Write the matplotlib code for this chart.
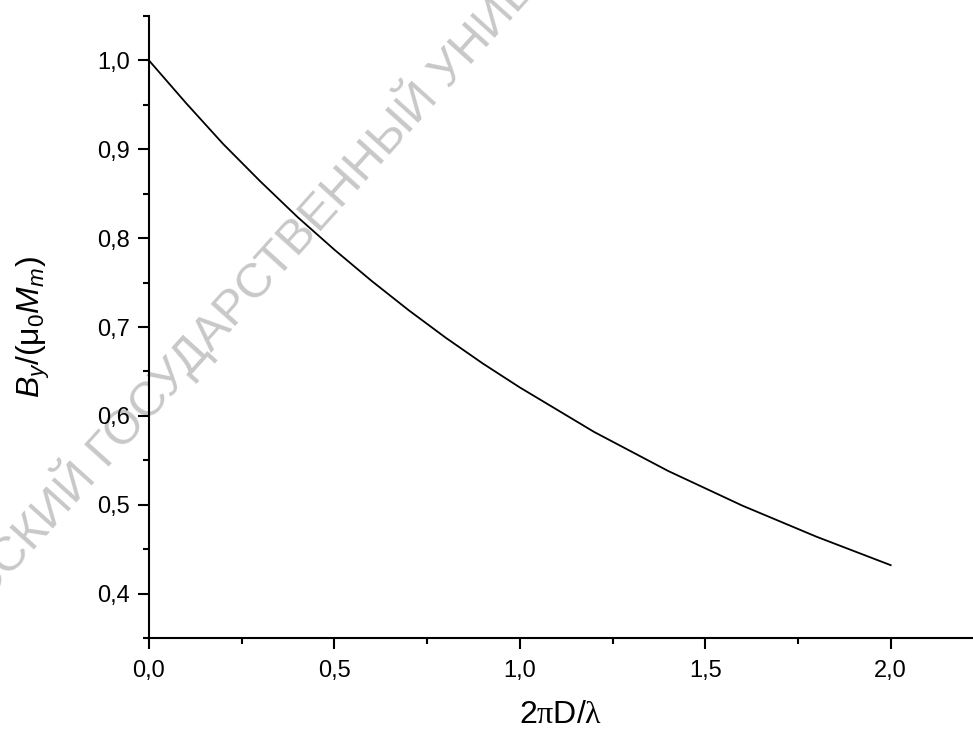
import numpy as np
import matplotlib.pyplot as plt
from matplotlib.ticker import MultipleLocator, FuncFormatter

# Datos
x_vals = [0.0, 0.1, 0.2, 0.3, 0.4, 0.5, 0.6, 0.7, 0.8, 0.9, 1.0,
          1.2, 1.4, 1.6, 1.8, 2.0]
b_vals = [1.000, 0.952, 0.906, 0.864, 0.824, 0.787, 0.752, 0.719, 0.688,
          0.659, 0.632, 0.582, 0.538, 0.499, 0.464, 0.432]

x_label = r'2$\mathcal{\pi}$D/$\mathcal{\lambda}$'
y_label = r'$\mathit{B}_\mathit{y}$/($\mathrm{\mu}_\mathrm{0}\mathit{M}_\mathit{m}$)'
marca = "БЕЛОРУССКИЙ ГОСУДАРСТВЕННЫЙ УНИВЕРСИТЕТ"

plt.rcParams['font.family'] = ['Liberation Sans', 'DejaVu Sans']
plt.rcParams['mathtext.fontset'] = 'custom'
plt.rcParams['mathtext.rm'] = 'Liberation Sans'
plt.rcParams['mathtext.it'] = 'Liberation Sans:italic'
plt.rcParams['mathtext.bf'] = 'Liberation Sans:bold'
plt.rcParams['mathtext.cal'] = 'Liberation Serif'

fig = plt.figure(figsize=(9.73, 7.31), dpi=100)
ax = fig.add_axes([0.1531, 0.1272, 0.8469, 0.8509])
ax.patch.set_visible(False)

# marca de agua
fig.text(0.266, 0.624, marca, rotation=48, rotation_mode='anchor',
         ha='center', va='center', fontsize=35, color='#c8c8c8', zorder=-1)

ax.plot(x_vals, b_vals, color='black', lw=1.3)

ax.set_xlim(0, 2.222)
ax.set_ylim(0.35, 1.05)
for s in ['top', 'right']:
    ax.spines[s].set_visible(False)
for s in ['left', 'bottom']:
    ax.spines[s].set_linewidth(1.5)

ax.xaxis.set_major_locator(MultipleLocator(0.5))
ax.xaxis.set_minor_locator(MultipleLocator(0.25))
ax.yaxis.set_major_locator(MultipleLocator(0.1))
ax.yaxis.set_minor_locator(MultipleLocator(0.05))
coma = FuncFormatter(lambda v, p: f'{v:.1f}'.replace('.', ','))
ax.xaxis.set_major_formatter(coma)
ax.yaxis.set_major_formatter(coma)
ax.tick_params(which='major', direction='out', length=8, width=1.5,
               labelsize=17, pad=6)
ax.tick_params(axis='x', which='major', pad=8)
ax.tick_params(which='minor', direction='out', length=4, width=1.5)

ax.set_xlabel(x_label, fontsize=23, labelpad=13)
ax.set_ylabel(y_label, fontsize=23, labelpad=32)

fig.savefig('out.png', dpi=100)
